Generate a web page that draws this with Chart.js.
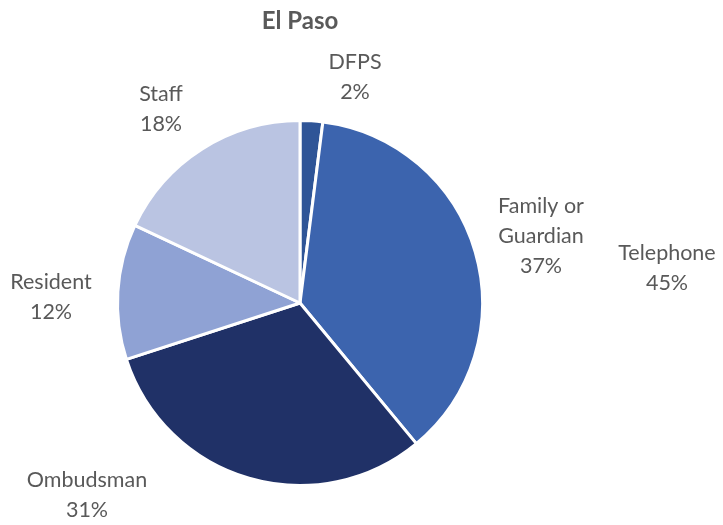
<!DOCTYPE html>
<html>
<head>
<meta charset="utf-8">
<script src="https://cdn.jsdelivr.net/npm/chart.js@4.4.0/dist/chart.umd.min.js"></script>
<style>
  html, body { margin: 0; padding: 0; background: #fff; }
  #wrap { width: 723px; height: 525px; }
</style>
</head>
<body>
<div id="wrap"><canvas id="pieChart"></canvas></div>
<script>
const categories = ['DFPS', 'Family or Guardian', 'Ombudsman', 'Resident', 'Staff'];
const shares = [2, 37, 31, 12, 18];
const sliceColors = ['#2f5597', '#3c64ae', '#203167', '#8fa2d4', '#bac4e2'];
const extraLabel = ['Telephone', '45%'];

// label anchors, offset from the pie centre (px)
const labelOffsets = [[55, -226], [241, -67], [-213, 192], [-249, -6], [-139, -194]];
const extraOffset = [367, -35];

const labelFont = '21.5px Lato, "Open Sans", sans-serif';

const labelsPlugin = {
    id: 'pieLabels',
    afterDraw(chart) {
        const ctx = chart.ctx;
        const arc = chart.getDatasetMeta(0).data[0];
        const cx = arc.x, cy = arc.y;
        ctx.save();
        ctx.fillStyle = '#595959';
        ctx.textAlign = 'center';
        ctx.textBaseline = 'middle';

        ctx.font = 'bold 24px Lato, "Open Sans", sans-serif';
        ctx.fillText('El Paso', cx, 21);

        ctx.font = labelFont;
        const lineH = 30;
        const drawLines = (lines, x, y) => {
            const top = y - (lines.length - 1) * lineH / 2;
            lines.forEach((t, i) => ctx.fillText(t, x, top + i * lineH));
        };
        categories.forEach((name, i) => {
            const lines = name === 'Family or Guardian' ? ['Family or', 'Guardian'] : [name];
            lines.push(shares[i] + '%');
            drawLines(lines, cx + labelOffsets[i][0], cy + labelOffsets[i][1]);
        });
        drawLines(extraLabel, cx + extraOffset[0], cy + extraOffset[1]);
        ctx.restore();
    }
};

new Chart(document.getElementById('pieChart'), {
    type: 'pie',
    data: {
        labels: categories,
        datasets: [{
            data: shares,
            backgroundColor: sliceColors,
            borderColor: '#ffffff',
            borderWidth: 3
        }]
    },
    options: {
        responsive: true,
        maintainAspectRatio: false,
        animation: false,
        layout: { padding: { top: 118, bottom: 37, left: 116, right: 239 } },
        plugins: {
            legend: { display: false },
            tooltip: { enabled: false }
        }
    },
    plugins: [labelsPlugin]
});
</script>
</body>
</html>
